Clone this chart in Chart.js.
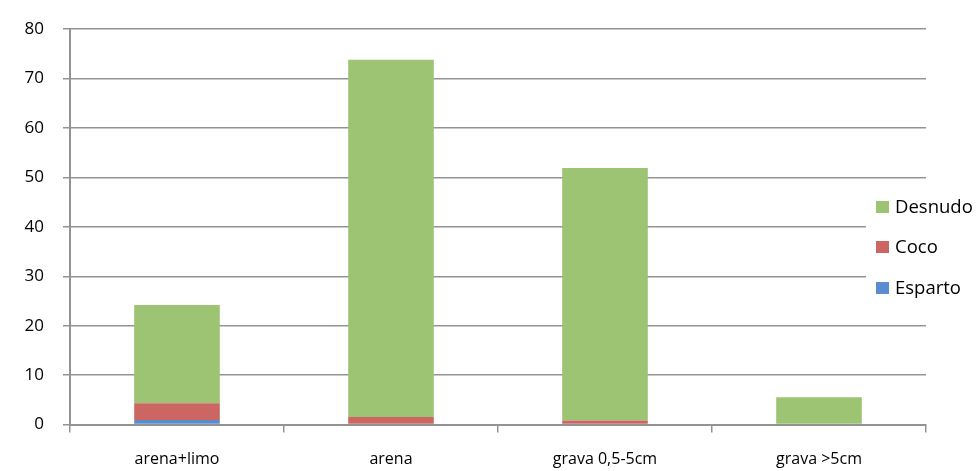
<!DOCTYPE html>
<html>
<head>
<meta charset="utf-8">
<script src="https://cdn.jsdelivr.net/npm/chart.js@4/dist/chart.umd.min.js"></script>
<style>
  html, body { margin: 0; padding: 0; background: #fff; }
  #wrap { width: 980px; height: 471px; position: relative; }
</style>
</head>
<body>
<div id="wrap"><canvas id="c" width="980" height="471"></canvas></div>
<script>
const categories = ["arena+limo", "arena", "grava 0,5-5cm", "grava >5cm"];
const esparto = [0.9, 0, 0, 0];
const coco = [3.4, 1.5, 0.8, 0];
const desnudo = [19.9, 72.3, 51.1, 5.5];
const yTicks = [0, 10, 20, 30, 40, 50, 60, 70, 80];

const colors = { esparto: "#5a8dce", coco: "#cc6663", desnudo: "#9dc473" };
const FONT = "'Open Sans', 'DejaVu Sans', sans-serif";
const GRID = "#939393";

const legendPlugin = {
  id: "customLegend",
  afterDraw(chart) {
    const ctx = chart.ctx;
    const items = [
      { label: "Desnudo", color: colors.desnudo, y: 207 },
      { label: "Coco", color: colors.coco, y: 247 },
      { label: "Esparto", color: colors.esparto, y: 288 }
    ];
    ctx.save();
    ctx.fillStyle = "#ffffff";
    ctx.fillRect(866, 188, 114, 116);
    ctx.font = "18.5px " + FONT;
    ctx.textBaseline = "middle";
    ctx.textAlign = "left";
    items.forEach(it => {
      ctx.fillStyle = it.color;
      ctx.fillRect(876, it.y - 6, 13, 12);
      ctx.fillStyle = "#000";
      ctx.fillText(it.label, 895, it.y + 1);
    });
    ctx.restore();
  }
};

new Chart(document.getElementById("c"), {
  type: "bar",
  data: {
    labels: categories,
    datasets: [
      { label: "Esparto", data: esparto, backgroundColor: colors.esparto },
      { label: "Coco", data: coco, backgroundColor: colors.coco },
      { label: "Desnudo", data: desnudo, backgroundColor: colors.desnudo }
    ]
  },
  options: {
    responsive: false,
    animation: false,
    devicePixelRatio: 1,
    layout: { padding: { top: 20, right: 54, left: 0, bottom: 0 } },
    plugins: { legend: { display: false }, tooltip: { enabled: false } },
    datasets: { bar: { categoryPercentage: 0.8, barPercentage: 0.5 } },
    scales: {
      x: {
        stacked: true,
        grid: { offset: true, drawOnChartArea: false, color: GRID, lineWidth: 1.5, tickLength: 8, tickColor: GRID },
        border: { color: GRID, width: 2 },
        ticks: { color: "#000", font: { family: FONT, size: 16 }, padding: 17, maxRotation: 0 },
        afterFit(s) { s.height = 46.5; }
      },
      y: {
        stacked: true,
        min: 0, max: 80,
        afterBuildTicks(s) { s.ticks = yTicks.map(v => ({ value: v })); },
        grid: { color: GRID, lineWidth: 1.5, tickLength: 7, tickColor: GRID },
        border: { color: GRID, width: 2 },
        ticks: { color: "#000", font: { family: FONT, size: 17 }, padding: 19 },
        afterFit(s) { s.width = 70; }
      }
    }
  },
  plugins: [legendPlugin]
});
</script>
</body>
</html>
